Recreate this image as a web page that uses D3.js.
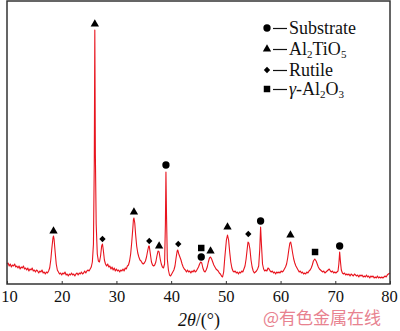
<!DOCTYPE html>
<html><head><meta charset="utf-8">
<script src="https://cdn.jsdelivr.net/npm/d3@7/dist/d3.min.js"></script>
<style>body{margin:0;background:#fff}svg{display:block}</style>
</head><body><svg id="c" width="400" height="331"></svg>
<script>
// XRD pattern: [2theta, intensity (a.u.)]
const pattern = [
[10.0,20],[10.2,21],[10.4,18],[10.6,20],[10.8,17],[11.0,19],[11.2,18],[11.4,20],[11.6,17],[11.8,18],
[12.0,16],[12.2,18],[12.4,15],[12.6,17],[12.8,16],[13.0,18],[13.2,15],[13.4,16],[13.6,14],[13.8,16],
[14.0,13],[14.2,15],[14.4,14],[14.6,16],[14.8,13],[15.0,14],[15.2,12],[15.4,14],[15.6,13],[15.8,11],
[16.0,13],[16.2,12],[16.4,14],[16.6,11],[16.8,12],[17.0,10],[17.2,12],[17.4,11],[17.6,13],[17.8,16],
[18.0,24],[18.2,36],[18.4,46],[18.5,48],[18.6,45],[18.8,32],[19.0,20],[19.2,14],[19.4,12],[19.6,10],
[19.8,11],[20.0,9],[20.2,11],[20.4,10],[20.6,12],[20.8,9],[21.0,10],[21.2,8],[21.4,10],[21.6,9],
[21.8,11],[22.0,9],[22.2,10],[22.4,8],[22.6,10],[22.8,11],[23.0,9],[23.2,11],[23.4,10],[23.6,12],
[23.8,10],[24.0,11],[24.2,13],[24.4,11],[24.6,13],[24.8,14],[25.0,13],[25.2,15],[25.4,17],[25.6,22],
[25.8,40],[25.95,120],[26.05,254],[26.15,130],[26.3,60],[26.5,30],[26.7,23],[26.9,22],[27.1,28],[27.3,38],
[27.45,40],[27.6,34],[27.8,24],[28.0,20],[28.2,18],[28.4,20],[28.6,17],[28.8,18],[29.0,15],[29.2,17],
[29.4,14],[29.6,16],[29.8,13],[30.0,15],[30.2,13],[30.4,14],[30.6,12],[30.8,14],[31.0,13],[31.2,15],
[31.4,13],[31.6,16],[31.8,15],[32.0,18],[32.2,19],[32.4,23],[32.6,30],[32.8,42],[33.0,56],[33.1,64],
[33.2,66],[33.35,61],[33.5,50],[33.7,38],[33.9,31],[34.1,27],[34.3,24],[34.5,23],[34.7,21],[34.9,20],
[35.1,21],[35.3,23],[35.5,27],[35.7,33],[35.9,38],[36.0,38],[36.2,30],[36.4,22],[36.6,19],[36.8,18],
[37.0,19],[37.2,22],[37.4,28],[37.6,33],[37.8,32],[38.0,25],[38.2,20],[38.4,17],[38.6,16],[38.8,20],
[38.95,60],[39.05,112],[39.15,70],[39.3,25],[39.5,14],[39.7,9],[39.9,8],[40.1,10],[40.3,12],[40.5,14],
[40.7,18],[40.9,26],[41.1,33],[41.2,34],[41.4,30],[41.6,27],[41.8,24],[42.0,20],[42.2,17],[42.4,15],
[42.6,14],[42.8,12],[43.0,14],[43.2,12],[43.4,13],[43.6,11],[43.8,13],[44.0,12],[44.2,14],[44.4,12],
[44.6,13],[44.8,15],[45.0,17],[45.2,20],[45.4,22],[45.6,21],[45.8,16],[46.0,13],[46.2,12],[46.4,14],
[46.6,17],[46.8,22],[47.0,26],[47.2,27],[47.4,25],[47.6,22],[47.8,19],[48.0,17],[48.2,15],[48.4,14],
[48.6,13],[48.8,11],[49.0,10],[49.2,8],[49.4,7],[49.6,12],[49.8,26],[50.0,38],[50.1,44],[50.3,49],
[50.5,44],[50.7,32],[50.9,22],[51.1,16],[51.3,13],[51.5,12],[51.7,13],[51.9,11],[52.1,12],[52.3,10],
[52.5,12],[52.7,11],[52.9,13],[53.1,12],[53.3,15],[53.5,18],[53.7,25],[53.9,35],[54.05,42],[54.2,41],
[54.4,35],[54.6,24],[54.8,17],[55.0,13],[55.2,11],[55.4,12],[55.6,13],[55.8,15],[56.0,18],[56.2,35],
[56.35,57],[56.5,40],[56.7,20],[56.9,15],[57.1,13],[57.3,14],[57.5,13],[57.7,16],[57.9,15],[58.1,13],
[58.3,12],[58.5,13],[58.7,11],[58.9,12],[59.1,10],[59.3,12],[59.5,11],[59.7,12],[59.9,11],[60.1,13],
[60.3,12],[60.5,13],[60.7,15],[60.9,17],[61.1,20],[61.3,26],[61.5,34],[61.7,41],[61.85,42],[62.0,38],
[62.2,31],[62.4,25],[62.6,21],[62.8,18],[63.0,16],[63.2,14],[63.4,12],[63.6,13],[63.8,11],[64.0,12],
[64.2,10],[64.4,11],[64.6,10],[64.8,12],[65.0,11],[65.2,13],[65.4,14],[65.6,16],[65.8,19],[66.0,23],
[66.25,25],[66.5,23],[66.7,20],[66.9,17],[67.1,15],[67.3,14],[67.5,13],[67.7,12],[67.9,13],[68.1,11],
[68.3,12],[68.5,13],[68.7,14],[68.9,15],[69.1,13],[69.3,12],[69.5,13],[69.7,11],[69.9,12],[70.1,11],
[70.3,12],[70.5,13],[70.65,20],[70.8,32],[70.95,22],[71.1,14],[71.3,11],[71.5,10],[71.7,11],[71.9,9],
[72.1,10],[72.3,9],[72.5,10],[72.7,8],[72.9,10],[73.1,9],[73.3,8],[73.5,10],[73.7,9],[73.9,8],
[74.1,9],[74.3,7],[74.5,9],[74.7,8],[74.9,9],[75.1,7],[75.3,8],[75.5,7],[75.7,9],[75.9,7],
[76.1,8],[76.3,6],[76.5,8],[76.7,7],[76.9,8],[77.1,6],[77.3,7],[77.5,6],[77.7,8],[77.9,6],
[78.1,7],[78.3,6],[78.5,7],[78.7,6],[78.9,7],[79.1,8],[79.3,7],[79.5,9],[79.7,10],[80.0,11]
];
// Phase markers: [phase, 2theta, intensity level]
const markers = [
["Al2TiO5",18.5,53],["Al2TiO5",26.05,260],["Rutile",27.45,45],["Al2TiO5",33.2,72],
["Rutile",36.0,43],["Al2TiO5",37.8,38],["Substrate",39.05,119],["Rutile",41.3,40],
["gamma",45.5,36],["Substrate",45.5,27],["Al2TiO5",47.2,33],["Al2TiO5",50.3,57],
["Rutile",54.1,50],["Substrate",56.35,63],["Al2TiO5",61.8,49],["gamma",66.3,32],["Substrate",70.8,38]
];
const legendPhases = ["Substrate","Al2TiO5","Rutile","gamma"];
const xTicks = [10,20,30,40,50,60,70,80];

const svg = d3.select("#c");
const L=7, R=390, T=1, B=284;
const x = d3.scaleLinear().domain([10,80]).range([L,R]);
const y = d3.scaleLinear().domain([0,283]).range([B,T]);
const font = "'Liberation Serif','Times New Roman',serif";

svg.append("path").datum(pattern)
  .attr("d", d3.line().x(d=>x(d[0])).y(d=>y(d[1])))
  .attr("fill","none").attr("stroke","#e8141e").attr("stroke-width",1.1)
  .attr("stroke-linejoin","round");

const symType = {Substrate:d3.symbolCircle, Al2TiO5:d3.symbolTriangle, Rutile:d3.symbolSquare, gamma:d3.symbolSquare};
const symSize = {Substrate:42, Al2TiO5:30, Rutile:20, gamma:42};
const symRot = {Substrate:0, Al2TiO5:0, Rutile:45, gamma:0};
function sym(p){ return d3.symbol().type(symType[p]).size(symSize[p])(); }
svg.selectAll("path.mk").data(markers).join("path").attr("class","mk")
  .attr("d",d=>sym(d[0]))
  .attr("transform",d=>`translate(${x(d[1])},${y(d[2])}) rotate(${symRot[d[0]]})`)
  .attr("fill","#000");

// frame
svg.append("rect").attr("x",L).attr("y",T).attr("width",R-L).attr("height",B-T)
  .attr("fill","none").attr("stroke","#333").attr("stroke-width",1.5);

// x axis (ticks inward)
const ax = svg.append("g").attr("transform",`translate(0,${B})`)
  .call(d3.axisBottom(x).tickValues(xTicks).tickSizeInner(-3).tickSizeOuter(0).tickPadding(6));
ax.select(".domain").remove();
ax.selectAll("line").attr("stroke","#333");
ax.selectAll("text").attr("font-family",font).attr("font-size",16.5).attr("fill","#111")
  .attr("dx",d=>d===10?2:(d===80?-1:0));

// axis title
const t = svg.append("text").attr("x",199).attr("y",326).attr("text-anchor","middle")
  .attr("font-family",font).attr("font-size",18).attr("fill","#111");
t.append("tspan").attr("font-style","italic").text("2θ");
t.append("tspan").text("/(°)");

// legend
const lg = svg.append("g");
const rowY = [28,49,70,89];
legendPhases.forEach((p,i)=>{
  const g = lg.append("g").attr("transform",`translate(0,${rowY[i]})`);
  g.append("path").attr("d",sym(p)).attr("transform",`translate(267,0) rotate(${symRot[p]})`).attr("fill","#000");
  g.append("line").attr("x1",273).attr("x2",287).attr("y1",0.5).attr("y2",0.5).attr("stroke","#111").attr("stroke-width",1.2);
  const tx = g.append("text").attr("x",289).attr("y",6).attr("font-family",font).attr("font-size",18).attr("fill","#111");
  if(p==="Substrate"){ tx.text("Substrate"); }
  else if(p==="Al2TiO5"){ tx.append("tspan").text("Al"); tx.append("tspan").attr("font-size",11).attr("dy",3).text("2");
    tx.append("tspan").attr("dy",-3).text("TiO"); tx.append("tspan").attr("font-size",11).attr("dy",3).text("5"); }
  else if(p==="Rutile"){ tx.text("Rutile"); }
  else { tx.append("tspan").attr("font-style","italic").text("γ"); tx.append("tspan").text("-Al");
    tx.append("tspan").attr("font-size",11).attr("dy",3).text("2"); tx.append("tspan").attr("dy",-3).text("O");
    tx.append("tspan").attr("font-size",11).attr("dy",3).text("3"); }
});

// watermark
svg.append("text").attr("x",263).attr("y",324).attr("font-family","'Noto Sans CJK SC',sans-serif")
  .attr("font-size",17).attr("fill","#e8828f").text("@有色金属在线");
</script></body></html>
